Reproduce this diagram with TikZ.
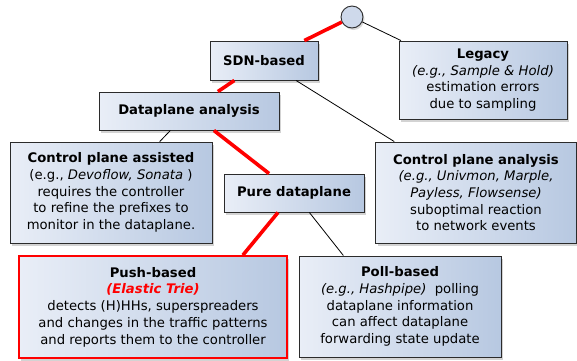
\documentclass[tikz,border=0pt]{standalone}
\usepackage{fontspec}
\setmainfont{DejaVu Sans}
\usetikzlibrary{shadows}

\definecolor{boxleft}{HTML}{E9EEF7}
\definecolor{boxright}{HTML}{B7C8E1}
\definecolor{boxline}{HTML}{2B2B2B}

\begin{document}
\begin{tikzpicture}[x=1pt, y=-1pt,
    every node/.style={font=\fontsize{13.2}{16.7}\selectfont},
    box/.style={rectangle, draw=boxline, line width=0.9pt, left color=boxleft, right color=boxright,
      align=center, inner sep=0pt,
      drop shadow={shadow xshift=2pt, shadow yshift=-2.5pt, opacity=0.35}},
    redbox/.style={box, draw=red, line width=1.8pt},
    root/.style={circle, draw=boxline, line width=0.9pt, fill=boxleft!45!boxright,
      minimum size=22pt, inner sep=0pt,
      drop shadow={shadow xshift=1.5pt, shadow yshift=-2pt, opacity=0.3}},
    hot/.style={red, line width=3.6pt},
    cold/.style={black, line width=0.8pt}]
  \useasboundingbox (0,0) rectangle (577,360);

  % root and first level
  \node[root] (top) at (352,17) {};
  \node[box, minimum width=108pt, minimum height=39pt] (sdn) at (264,60.5) {\textbf{SDN-based}};
  \node[box, minimum width=168pt, minimum height=78pt] (legacy) at (483,80)
    {\textbf{Legacy}\\ \textit{(e.g., Sample \& Hold)}\\ estimation errors\\ due to sampling};

  % second level
  \node[box, minimum width=180pt, minimum height=38pt] (dpa) at (189,111) {\textbf{Dataplane analysis}};
  \node[box, minimum width=201pt, minimum height=101pt] (cpan) at (476,192.5)
    {\textbf{Control plane analysis}\\ \textit{(e.g., Univmon, Marple,}\\ \textit{Payless, Flowsense)}\\
     suboptimal reaction\\ to network events};

  % third level
  \node[box, minimum width=202pt, minimum height=101pt] (cpas) at (111,192.5)
    {\textbf{Control plane assisted}\\ (e.g., \textit{Devoflow, Sonata} )\\ requires the controller\\
     to refine the prefixes to\\ monitor in the dataplane.};
  \node[box, minimum width=140pt, minimum height=38pt] (pure) at (294,193) {\textbf{Pure dataplane}};

  % leaves
  \node[redbox, minimum width=268pt, minimum height=102pt] (push) at (153,307)
    {\textbf{Push-based}\\ \textcolor{red}{\textbf{\textit{(Elastic Trie)}}}\\ detects (H)HHs, superspreaders\\
     and changes in the traffic patterns\\ and reports them to the controller};
  \node[box, minimum width=202pt, minimum height=101pt] (poll) at (400,306.5)
    {\textbf{Poll-based}\\ \textit{(e.g., Hashpipe)}~ polling\\ dataplane information\\
     can affect dataplane\\ forwarding state update};

  % connectors
  \draw[hot] (top) -- (sdn);
  \draw[cold] (top) -- (legacy);
  \draw[hot] (sdn) -- (dpa);
  \draw[cold] (sdn) -- (cpan);
  \draw[cold] (dpa) -- (cpas);
  \draw[hot] (dpa) -- (pure);
  \draw[hot] (pure) -- (push.30);
  \draw[cold] (pure) -- (poll.138);
\end{tikzpicture}
\end{document}
